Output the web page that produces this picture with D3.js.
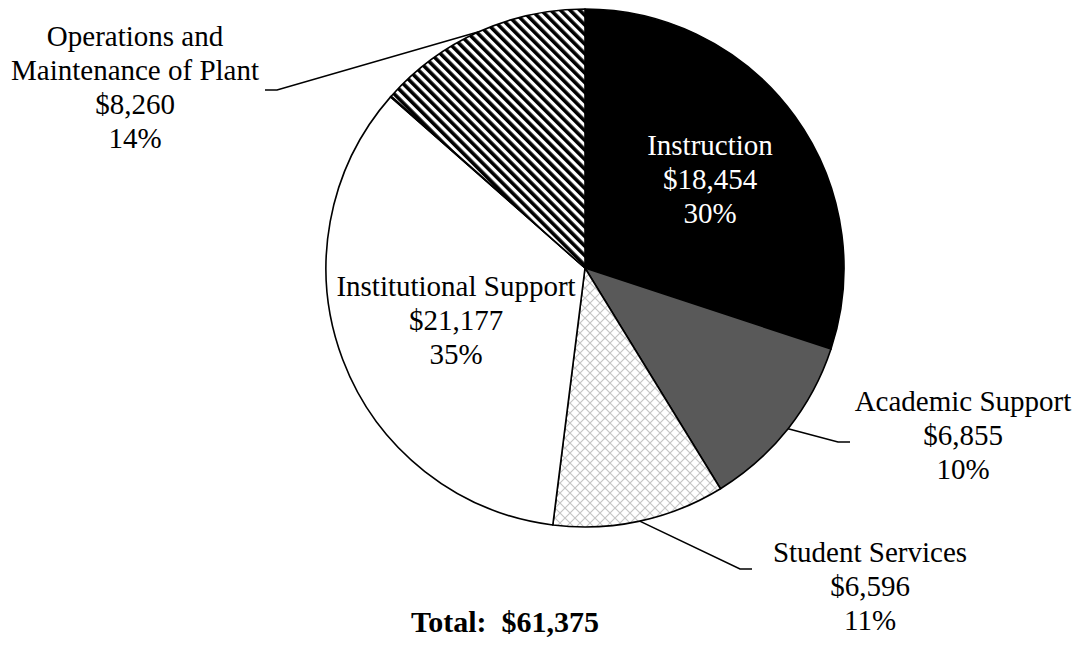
<!DOCTYPE html>
<html>
<head>
<meta charset="utf-8">
<script src="https://cdn.jsdelivr.net/npm/d3@7"></script>
<style>
  body { margin: 0; background: #fff; }
  text { font-family: "Liberation Serif", "Times New Roman", serif; }
</style>
</head>
<body>
<div id="container"></div>
<script>
/* DATA */
const categories = ["Instruction", "Academic Support", "Student Services", "Institutional Support", "Other", "Operations and Maintenance of Plant"];
const amounts = [18454, 6855, 6596, 21177, 33, 8260];
const amountLabels = ["$18,454", "$6,855", "$6,596", "$21,177", "", "$8,260"];
const percentLabels = ["30%", "10%", "11%", "35%", "", "14%"];
const totalLabel = "Total:  $61,375";

/* CONSTANTS */
const width = 1080, height = 652,
  cx = 585, cy = 268, radius = 259,
  fontSize = 29, lineH = 34;

const data = categories.map((c, i) => ({
  name: c, value: amounts[i], amount: amountLabels[i], pct: percentLabels[i]
}));

const svg = d3.select("#container")
  .append("svg")
  .attr("width", width)
  .attr("height", height);

const defs = svg.append("defs");

// diagonal stripes
const stripes = defs.append("pattern")
  .attr("id", "stripes")
  .attr("patternUnits", "userSpaceOnUse")
  .attr("width", 6.8).attr("height", 6.8)
  .attr("patternTransform", "rotate(-45)");
stripes.append("rect").attr("width", 6.8).attr("height", 6.8).attr("fill", "#fff");
stripes.append("rect").attr("width", 3.6).attr("height", 6.8).attr("fill", "#000");

// light gray diamond hatch
const hatch = defs.append("pattern")
  .attr("id", "hatch")
  .attr("patternUnits", "userSpaceOnUse")
  .attr("width", 10).attr("height", 10);
hatch.append("rect").attr("width", 10).attr("height", 10).attr("fill", "#fff");
hatch.append("path")
  .attr("d", "M0,0 L10,10 M10,0 L0,10")
  .attr("stroke", "#c4c4c4").attr("stroke-width", 1.1);

const fills = ["#000", "#595959", "url(#hatch)", "#fff", "#fff", "url(#stripes)"];

const pie = d3.pie().value(d => d.value).sort(null);
const arc = d3.arc().innerRadius(0).outerRadius(radius);

const g = svg.append("g").attr("transform", `translate(${cx},${cy})`);
const arcs = pie(data);

g.selectAll("path.slice")
  .data(arcs)
  .join("path")
  .attr("class", "slice")
  .attr("d", arc)
  .attr("fill", (d, i) => fills[i])
  .attr("stroke", "#000")
  .attr("stroke-width", 1.6)
  .attr("stroke-linejoin", "round");

// label layout
const labelPos = {
  "Instruction": { x: 710, y: 145, lines: ["Instruction"], color: "#fff" },
  "Academic Support": { x: 963, y: 401, lines: ["Academic Support"], elbow: [838, 442], side: 1 },
  "Student Services": { x: 870, y: 552, lines: ["Student Services"], elbow: [740, 569], side: 1 },
  "Institutional Support": { x: 456, y: 286, lines: ["Institutional Support"] },
  "Operations and Maintenance of Plant": { x: 135, y: 36, lines: ["Operations and", "Maintenance of Plant"], elbow: [277, 90], side: -1 }
};

arcs.forEach(a => {
  const lp = labelPos[a.data.name];
  if (!lp) return;
  const lines = lp.lines.concat([a.data.amount, a.data.pct]);
  const t = svg.append("text")
    .attr("text-anchor", "middle")
    .attr("font-size", fontSize)
    .attr("fill", lp.color || "#000");
  lines.forEach((l, k) => {
    t.append("tspan")
      .attr("x", lp.x)
      .attr("y", lp.y + k * lineH)
      .attr("dy", "0.35em")
      .text(l);
  });
  if (lp.elbow) {
    const mid = (a.startAngle + a.endAngle) / 2;
    const p = [cx + radius * Math.sin(mid), cy - radius * Math.cos(mid)];
    const end = [lp.elbow[0] + lp.side * 12, lp.elbow[1]];
    svg.append("path")
      .attr("d", d3.line()([p, lp.elbow, end]))
      .attr("fill", "none")
      .attr("stroke", "#000")
      .attr("stroke-width", 1.6);
  }
});

svg.append("text")
  .attr("x", 505).attr("y", 621)
  .attr("dy", "0.35em")
  .attr("text-anchor", "middle")
  .attr("font-size", 30)
  .attr("font-weight", "bold")
  .attr("xml:space", "preserve")
  .style("white-space", "pre")
  .text(totalLabel);
</script>
</body>
</html>
